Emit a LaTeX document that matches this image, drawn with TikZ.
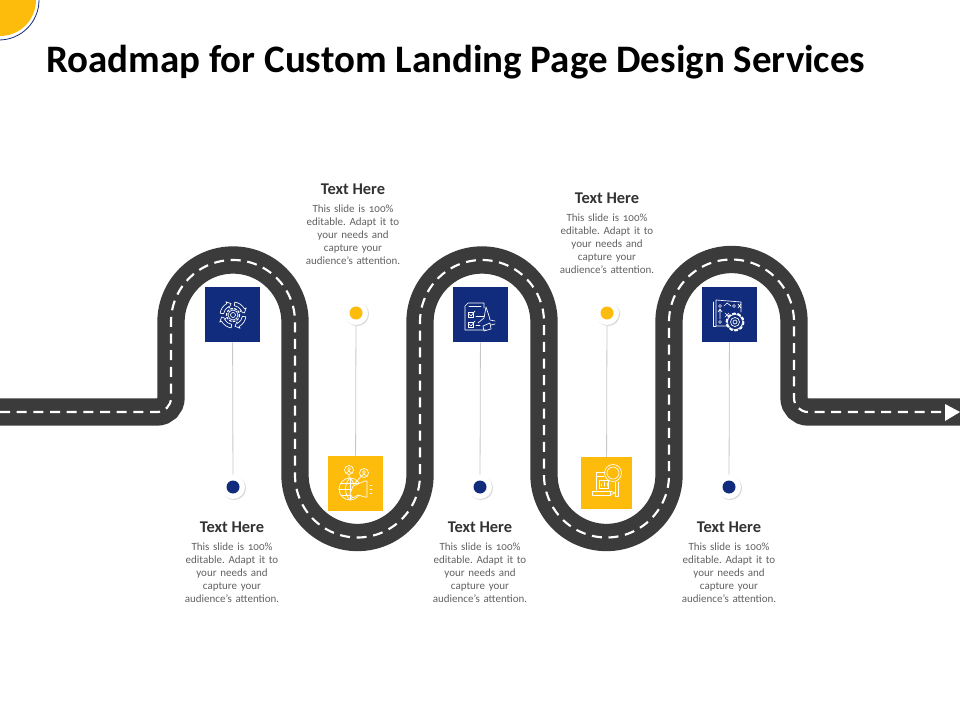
\documentclass[tikz,border=0pt]{standalone}
\usepackage{fontspec}
\setmainfont[Numbers=OldStyle]{Carlito}
\usetikzlibrary{shadows}
\definecolor{navy}{HTML}{112C7C}
\definecolor{sun}{HTML}{FDBC0C}
\definecolor{asphalt}{HTML}{3B3B3B}
\newcommand{\slidetext}{This slide is 100\%\\editable. Adapt it to\\your needs and\\capture your\\audience's attention.}
\tikzset{
  iconbox/.style={rectangle,minimum size=41.25pt,inner sep=0pt},
  dotbox/.style={circle,fill=white,minimum size=18pt,inner sep=0pt,
    drop shadow={shadow xshift=.8pt,shadow yshift=-.8pt,opacity=.14,fill=black},
    path picture={\fill[#1] (path picture bounding box.center) circle (6.5);}},
  stem/.style={draw=black!22,line width=.6pt},
  headtext/.style={font=\fontsize{12.3}{14}\selectfont\bfseries,text=black!80},
  bodytext/.style={font=\fontsize{8.25}{9.7}\selectfont\frenchspacing,text=black!62,align=center,text width=90pt,anchor=north},
  glyph/.style={draw=white,line width=.5pt,line cap=round,line join=round}
}
\begin{document}
\begin{tikzpicture}[x=0.75pt,y=-0.75pt]
\clip (0,0) rectangle (960,720);
% corner
\fill[sun] (0,0) circle (36);
\draw[navy,line width=.6pt] (-1,0) circle (40);
\node[anchor=west,inner sep=0pt,font=\fontsize{29.2}{33}\selectfont\bfseries] (title) at (46,62) {Roadmap for Custom Landing Page Design Services};
% road
\draw[asphalt,line width=20.5pt,postaction={draw,white,line width=1.6pt,dash pattern=on 7.5pt off 5pt}]
  (0,412) -- (157,412) arc[start angle=90,end angle=0,radius=14] -- (171,322)
  arc[start angle=180,end angle=360,radius=62] -- (295,475)
  arc[start angle=180,end angle=0,radius=62.5] -- (420,322)
  arc[start angle=180,end angle=360,radius=62] -- (544,475)
  arc[start angle=180,end angle=0,radius=62.5] -- (669,322)
  arc[start angle=180,end angle=360,radius=62.5] -- (794,398)
  arc[start angle=180,end angle=90,radius=14] -- (960,412);
\fill[white] (945,404) -- (960,412) -- (945,421) -- cycle;
% squares
\node[iconbox,fill=navy] (box1) at (232.5,314.5) {};
\node[iconbox,fill=sun] (box2) at (355.5,483.5) {};
\node[iconbox,fill=navy] (box3) at (480.5,314.5) {};
\node[iconbox,fill=sun,minimum size=38.5pt] (box4) at (606.5,483) {};
\node[iconbox,fill=navy] (box5) at (729.5,314.5) {};
% dots
\node[dotbox=navy] (dot1) at (233,487) {};
\node[dotbox=sun] (dot2) at (356,313) {};
\node[dotbox=navy] (dot3) at (480,487) {};
\node[dotbox=sun] (dot4) at (607,313) {};
\node[dotbox=navy] (dot5) at (729,487) {};
\draw[stem] (box1)--(dot1);
\draw[stem] (dot2)--(box2);
\draw[stem] (box3)--(dot3);
\draw[stem] (dot4)--(box4);
\draw[stem] (box5)--(dot5);
% texts
\node[headtext] (head1) at (232,527) {Text Here};
\node[bodytext] (body1) at (232,538) {\slidetext};
\node[headtext] (head2) at (353,189) {Text Here};
\node[bodytext] (body2) at (353,200) {\slidetext};
\node[headtext] (head3) at (480,527) {Text Here};
\node[bodytext] (body3) at (480,538) {\slidetext};
\node[headtext] (head4) at (607,198) {Text Here};
\node[bodytext] (body4) at (607,209) {\slidetext};
\node[headtext] (head5) at (729,527) {Text Here};
\node[bodytext] (body5) at (729,538) {\slidetext};
% gear and arrows
\draw[glyph] (233,315) circle (2.5) circle (5);
\draw[glyph,dash pattern=on 1.5pt off 1.5pt,line width=.9pt] (233,315) circle (6.5);
\begin{scope}[shift={(233,315)}]
\foreach \a in {0,90,180,270}{
  \draw[glyph,rotate=\a] (8:13) arc[start angle=8,end angle=62,radius=13] -- (62:15) -- (80:11.5) -- (62:8) -- (62:9.5) arc[start angle=62,end angle=8,radius=9.5] -- cycle;
}
\end{scope}
% globe, people, megaphone
\draw[glyph] (350,489) circle (11);
\draw[glyph] (350,478) -- (350,500) (339,489) -- (361,489) (341,483) -- (359,483) (341,495) -- (359,495);
\draw[glyph] (350,478) .. controls (344,484) and (344,494) .. (350,500);
\draw[glyph] (350,478) .. controls (356,484) and (356,494) .. (350,500);
\draw[glyph] (349,470) circle (4.5) (349,469) circle (1.5) (346.5,473) -- (349,471) -- (351.5,473);
\draw[glyph] (364,473) circle (4.5) (364,472) circle (1.5) (361.5,476) -- (364,474) -- (366.5,476);
\draw[glyph] (349,474.5) -- (349,478) (361,476.5) -- (354,484);
\draw[glyph,fill=sun] (353,486) -- (365,481) -- (367,481) -- (367,497) -- (365,497) -- (358,495) -- (353,498) -- (350,494) -- cycle;
\draw[glyph] (370,485) -- (372,485) (370,489) -- (372,489) (370,493) -- (372,493);
% clipboard and pen
\draw[glyph] (468,303) -- (484,303) -- (484,308) (468,303) -- (465,306) -- (465,330) -- (486,330);
\draw[glyph] (469,306) -- (481,306);
\draw[glyph] (468,312) rectangle (473,317) (468,322) rectangle (473,327);
\draw[glyph] (469,314) -- (471,316) -- (475,311) (469,324) -- (471,326) -- (475,321);
\draw[glyph] (476,316) -- (484,316) (476,325) -- (480,325);
\draw[glyph] (486,307) -- (489,316) -- (490,320) -- (495,321) (486,307) -- (484,318) -- (478,323);
\draw[glyph] (483,326) -- (490,323) -- (491,329) -- (484,331) -- cycle;
\draw[glyph] (491,325) -- (495,324);
% report and magnifier
\draw[glyph] (605,472) -- (596,472) -- (596,490) (596,476) -- (604,476);
\draw[glyph] (599,480) rectangle (608,488);
\draw[glyph] (601,486) -- (601,484) (604,486) -- (604,482) (607,486) -- (607,483);
\draw[glyph] (592,491) rectangle (610,495);
\draw[glyph] (610,491) -- (615,493) -- (610,495);
\draw[glyph] (613,473) circle (8.5) circle (6);
\draw[glyph] (615,482) -- (615,496) -- (618,496) -- (618,482);
% map and gear
\draw[glyph] (716,300) -- (716,326) -- (738,326) (716,300) -- (741,302) -- (741,312);
\draw[glyph] (713,302) -- (713,326) -- (716,326);
\draw[glyph] (720,306) circle (1.5) (720,322) circle (1.5) (734,306) circle (1.5);
\draw[glyph] (720,319) -- (720,310) (718,312) -- (720,309) -- (722,312);
\draw[glyph] (724,306) -- (727,303) -- (731,306);
\draw[glyph] (738,304) -- (741,308) (741,304) -- (738,308) (725,313) -- (729,317) (729,313) -- (725,317);
\draw[glyph,fill=navy] (735,322) circle (7.5);
\draw[glyph,dash pattern=on 2pt off 2pt,line width=1.4pt] (735,322) circle (8.5);
\draw[glyph] (735,322) circle (2) circle (4.5);
\end{tikzpicture}
\end{document}
